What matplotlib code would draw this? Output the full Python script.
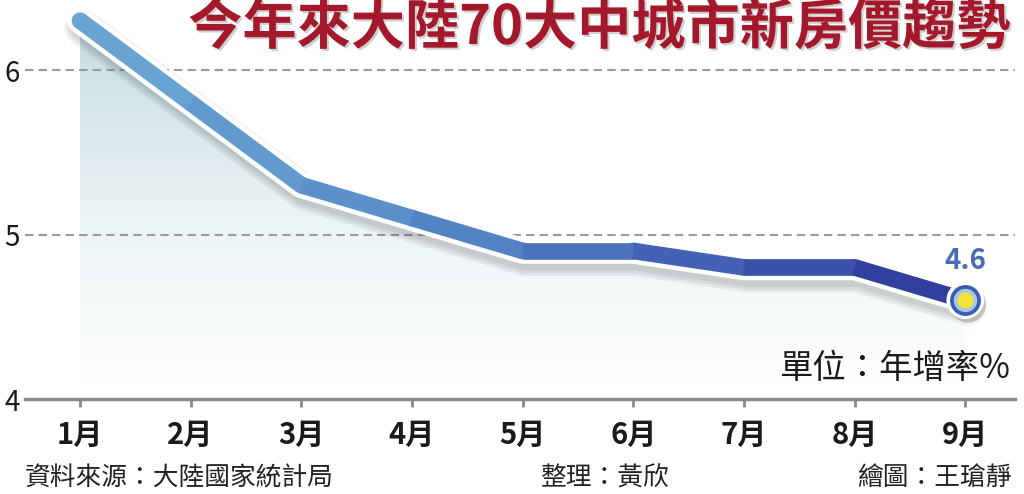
"""70-city new home price trend (YoY %), Jan-Sep, recreated from the newspaper graphic."""
import numpy as np
import matplotlib
matplotlib.use("Agg")
import matplotlib.pyplot as plt
import matplotlib.patheffects as pe
from matplotlib.collections import LineCollection
from matplotlib.colors import LinearSegmentedColormap

plt.rcParams["font.family"] = ["Noto Sans CJK TC", "DejaVu Sans"]

# ---- data ----
months = ["1月", "2月", "3月", "4月", "5月", "6月", "7月", "8月", "9月"]
values = [6.3, 5.8, 5.3, 5.1, 4.9, 4.9, 4.8, 4.8, 4.6]
y_ticks = [4, 5, 6]

title = "今年來大陸70大中城市新房價趨勢"
unit_note = "單位：年增率%"
source_note = "資料來源：大陸國家統計局"
editor_note = "整理：黃欣"
artist_note = "繪圖：王瑲靜"

W, H = 1024, 494
fig = plt.figure(figsize=(W / 100, H / 100), dpi=100)
ax = fig.add_axes([25 / W, (H - 399) / H, 990 / W, 399 / H])

x = np.arange(len(months))
y = np.asarray(values)

ax.set_xlim(-0.497, 8.45)
ax.set_ylim(4, 4 + 399 / 164.5)

# gradient fill under the line
poly = ax.fill_between(x, y, 4, color="none", linewidth=0)
grad = np.linspace(0, 1, 256).reshape(-1, 1)
fill_cmap = LinearSegmentedColormap.from_list("fill", ["#ffffff", "#e9f2f4", "#c4dce3"])
img = ax.imshow(grad, cmap=fill_cmap, aspect="auto", origin="lower",
                extent=(x[0], x[-1], 4.08, max(values)), zorder=1)
img.set_clip_path(poly.get_paths()[0], transform=ax.transData)

# dashed gridlines
for v in (5, 6):
    ax.axhline(v, color="#9a9a9a", lw=1.5, ls=(0, (4, 2.5)), zorder=2)

# white casing + soft shadow
shadow = [pe.Stroke(offset=(2, -5), linewidth=lw, foreground="#000000", alpha=0.06)
          for lw in (26, 22, 18)]
ax.plot(x, y, color="white", lw=18.5, solid_capstyle="round", solid_joinstyle="round",
        zorder=3, path_effects=shadow + [pe.Normal()])

# colour-graded line: butt-capped segments over vertex discs
line_cmap = LinearSegmentedColormap.from_list(
    "line", ["#6ca8d3", "#5a8fcb", "#4565b8", "#2d3896"])
seg_colors = line_cmap((np.arange(len(x) - 1) + 0.5) / (len(x) - 1))
vtx_colors = line_cmap(np.arange(len(x)) / (len(x) - 1))
lw_line = 12
ax.scatter(x[:-1], y[:-1], s=lw_line ** 2, color=vtx_colors[:-1], linewidths=0, zorder=4)
pts = np.column_stack([x, y])
segs = np.stack([pts[:-1], pts[1:]], axis=1)
lc = LineCollection(segs, colors=seg_colors, linewidths=lw_line, capstyle="butt",
                    zorder=4.5)
ax.add_collection(lc)

# end marker
ax.scatter([x[-1]], [y[-1]], s=680, color="white", zorder=5,
           path_effects=[pe.SimplePatchShadow(offset=(2, -3), alpha=0.25), pe.Normal()])
ax.scatter([x[-1]], [y[-1]], s=450, color="#3a5cb3", zorder=6)
ax.scatter([x[-1]], [y[-1]], s=250, color="#a8c8e8", zorder=7)
ax.scatter([x[-1]], [y[-1]], s=110, color="#f3e43a", zorder=8)
ax.annotate(f"{values[-1]}", (x[-1], y[-1]), xytext=(0, 28), textcoords="offset points",
            ha="center", va="center", fontsize=20, fontweight="bold", color="#4a6cb3",
            zorder=9)

# axes styling
for s in ("top", "right", "left"):
    ax.spines[s].set_visible(False)
ax.spines["bottom"].set_color("#8a8a8a")
ax.spines["bottom"].set_linewidth(2.5)
ax.set_xticks(x)
ax.set_xticklabels(months, fontsize=21, fontweight="bold", color="#1a1a1a")
ax.tick_params(axis="x", direction="out", length=6, width=2, color="#8a8a8a", pad=9)
ax.set_yticks(y_ticks)
ax.set_yticklabels([str(t) for t in y_ticks], fontsize=20, color="#1a1a1a")
ax.tick_params(axis="y", length=0, pad=4)

# texts
fig.text(1010 / W, 1 - 1 / H, title, ha="right", va="top", fontsize=39,
         fontweight="bold", color="#a3182b",
         path_effects=[pe.withSimplePatchShadow(offset=(1.5, -1.5), shadow_rgbFace="#888888",
                                                alpha=0.4)])
fig.text(1010 / W, 1 - 368 / H, unit_note, ha="right", va="center", fontsize=24,
         color="#1a1a1a")
fig.text(25 / W, 1 - 478 / H, source_note, ha="left", va="center", fontsize=18.5,
         color="#222222")
fig.text(540 / W, 1 - 478 / H, editor_note, ha="left", va="center", fontsize=18.5,
         color="#222222")
fig.text(1012 / W, 1 - 478 / H, artist_note, ha="right", va="center", fontsize=18.5,
         color="#222222")

fig.savefig("out.png", dpi=100)
